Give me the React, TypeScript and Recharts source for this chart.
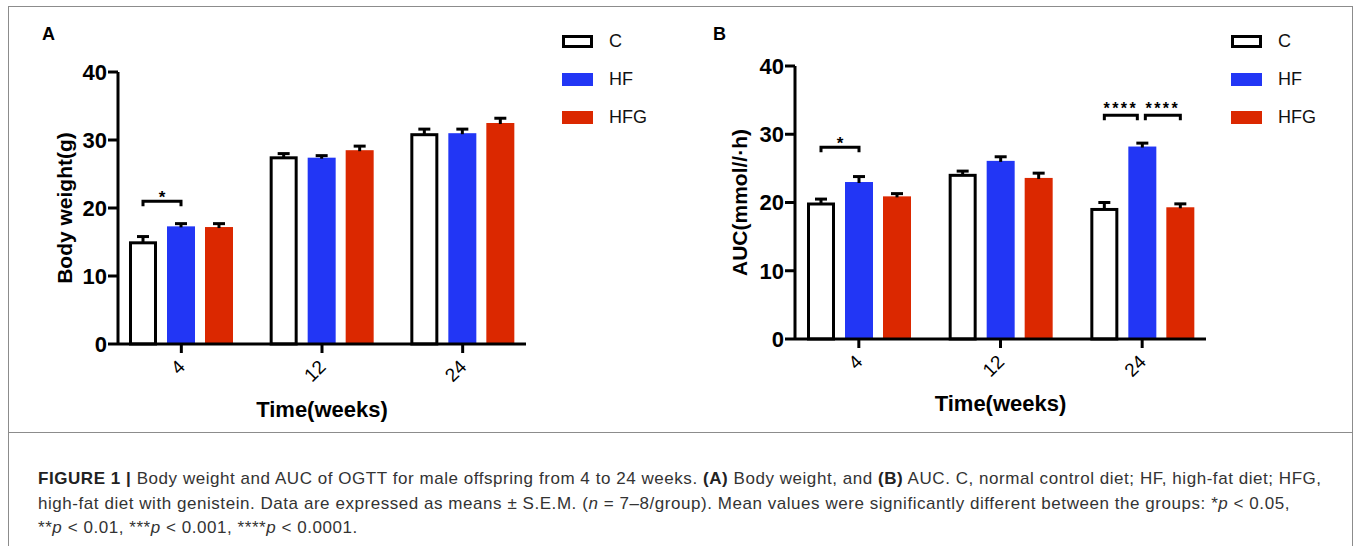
import React from "react";
import { Bar, BarChart, Label, Legend, XAxis, YAxis } from "recharts";

const weeks = ["4", "12", "24"];
const yTicks = [0, 10, 20, 30, 40];

// panel A – body weight (g), mean and S.E.M.
const bwC = [15.1, 27.6, 31.0];
const bwCErr = [0.7, 0.4, 0.6];
const bwHF = [17.3, 27.4, 31.0];
const bwHFErr = [0.4, 0.3, 0.6];
const bwHFG = [17.2, 28.5, 32.5];
const bwHFGErr = [0.5, 0.6, 0.7];

// panel B – AUC of OGTT
const aucC = [20.0, 24.2, 19.2];
const aucCErr = [0.5, 0.4, 0.8];
const aucHF = [23.0, 26.1, 28.2];
const aucHFErr = [0.8, 0.6, 0.5];
const aucHFG = [20.9, 23.6, 19.3];
const aucHFGErr = [0.4, 0.7, 0.5];

type Sig = { week: string; from: string; to: string; level: number; text: string };

// significance brackets, level in axis units
const bwSig: Sig[] = [{ week: "4", from: "c", to: "hf", level: 21.0, text: "*" }];
const aucSig: Sig[] = [
  { week: "4", from: "c", to: "hf", level: 28.1, text: "*" },
  { week: "24", from: "c", to: "hf", level: 32.8, text: "****" },
  { week: "24", from: "hf", to: "hfg", level: 32.8, text: "****" },
];

const FONT = '"Liberation Sans", Arial, Helvetica, sans-serif';
const BLUE = "#2236F5";
const RED = "#DB2800";
const BAR = 28;
const GAP = 10;

const series = [
  { key: "c", name: "C", fill: "#ffffff", outline: true },
  { key: "hf", name: "HF", fill: BLUE, outline: false },
  { key: "hfg", name: "HFG", fill: RED, outline: false },
];
const keys = series.map((s) => s.key);

function buildRows(c: number[], cErr: number[], hf: number[], hfErr: number[], hfg: number[], hfgErr: number[]) {
  return weeks.map((week, i) => ({
    week,
    c: c[i],
    cErr: cErr[i],
    hf: hf[i],
    hfErr: hfErr[i],
    hfg: hfg[i],
    hfgErr: hfgErr[i],
  }));
}

const bwRows = buildRows(bwC, bwCErr, bwHF, bwHFErr, bwHFG, bwHFGErr);
const aucRows = buildRows(aucC, aucCErr, aucHF, aucHFErr, aucHFG, aucHFGErr);

// bar + one-sided error bar (+ brackets for the series that carries them)
function barShape(key: string, outline: boolean, fill: string, sig: Sig[]) {
  return (p: any) => {
    const { x, y, width, height, payload } = p;
    const v = payload[key];
    const unit = v > 0 ? height / v : 0;
    const base = y + height;
    const cx = x + width / 2;
    const ey = y - payload[key + "Err"] * unit;
    const marks = sig.filter((s) => s.week === payload.week);
    const rel = (k: string) => keys.indexOf(k) - keys.indexOf(key);
    return (
      <g>
        {outline ? (
          <rect x={x + 1.5} y={y + 1.5} width={width - 3} height={height - 1.5} fill="#fff" stroke="#000" strokeWidth={3} />
        ) : (
          <rect x={x} y={y} width={width} height={height} fill={fill} />
        )}
        <line x1={cx} x2={cx} y1={y + 1} y2={ey} stroke="#000" strokeWidth={3} />
        <line x1={cx - 6} x2={cx + 6} y1={ey} y2={ey} stroke="#000" strokeWidth={3} />
        {marks.map((s, i) => {
          const pair = marks.length > 1;
          let x1 = cx + rel(s.from) * (BAR + GAP);
          let x2 = cx + rel(s.to) * (BAR + GAP);
          if (pair && s.to === key) x2 -= 5;
          if (pair && s.from === key) x1 += 3;
          const by = base - s.level * unit;
          return (
            <g key={i}>
              <path d={`M${x1},${by + 5}V${by}H${x2}V${by + 5}`} fill="none" stroke="#000" strokeWidth={3} />
              <text
                x={(x1 + x2) / 2}
                y={by + (s.text.length > 1 ? -1 : 2)}
                textAnchor="middle"
                fontFamily={FONT}
                fontWeight="bold"
                fontSize={s.text.length > 1 ? 16 : 17}
                letterSpacing={s.text.length > 1 ? 2.4 : 0}
                fill="#000"
              >
                {s.text}
              </text>
            </g>
          );
        })}
      </g>
    );
  };
}

const XTick = (p: any) => {
  const tx = p.x + 5;
  const ty = p.y + 13;
  return (
    <text x={tx} y={ty} transform={`rotate(-45 ${tx} ${ty})`} textAnchor="end" fontFamily={FONT} fontSize={19} fill="#000">
      {p.payload.value}
    </text>
  );
};

const legendContent = () => (
  <div style={{ fontFamily: FONT }}>
    {series.map((s) => (
      <div key={s.key} style={{ display: "flex", alignItems: "center", height: 38 }}>
        <div
          style={{
            width: 31,
            height: 13,
            boxSizing: "border-box",
            background: s.fill,
            border: s.outline ? "3px solid #000" : "none",
          }}
        />
        <span style={{ marginLeft: 16, fontSize: 18, color: "#111" }}>{s.name}</span>
      </div>
    ))}
  </div>
);

function Panel(props: {
  rows: any[];
  sig: Sig[];
  yLabel: string;
  yLabelOffset: number;
  margin: { top: number; right: number; bottom: number; left: number };
  xLabelOffset: number;
  legendLeft: number;
}) {
  const { rows, sig, yLabel, yLabelOffset, margin, xLabelOffset, legendLeft } = props;
  return (
    <BarChart width={680} height={430} data={rows} margin={margin} barGap={GAP}>
      <XAxis
        dataKey="week"
        height={60}
        interval={0}
        padding={{ left: -7, right: -7 }}
        tickSize={9}
        tickMargin={2}
        tickLine={{ stroke: "#000", strokeWidth: 3 }}
        axisLine={{ stroke: "#000", strokeWidth: 3 }}
        tick={<XTick />}
      >
        <Label
          value="Time(weeks)"
          position="bottom"
          offset={xLabelOffset}
          style={{ fontFamily: FONT, fontSize: 22, fontWeight: "bold", fill: "#000" }}
        />
      </XAxis>
      <YAxis
        width={100}
        domain={[0, 40]}
        ticks={yTicks}
        interval={0}
        tickSize={10}
        tickMargin={1}
        tickLine={{ stroke: "#000", strokeWidth: 3 }}
        axisLine={{ stroke: "#000", strokeWidth: 3 }}
        tick={{ fontFamily: FONT, fontSize: 22, fontWeight: "bold", fill: "#000" }}
      >
        <Label
          value={yLabel}
          angle={-90}
          position="insideLeft"
          offset={yLabelOffset}
          style={{ fontFamily: FONT, fontSize: 21, fontWeight: "bold", fill: "#000", textAnchor: "middle" }}
        />
      </YAxis>
      {series.map((s) => (
        <Bar
          key={s.key}
          dataKey={s.key}
          name={s.name}
          fill={s.fill}
          barSize={BAR}
          isAnimationActive={false}
          shape={barShape(s.key, s.outline, s.fill, s.key === "hf" ? sig : [])}
        />
      ))}
      <Legend
        layout="vertical"
        align="center"
        verticalAlign="middle"
        wrapperStyle={{ left: legendLeft, top: 22, width: 120 }}
        content={legendContent}
      />
    </BarChart>
  );
}

const cap: React.CSSProperties = {
  position: "absolute",
  left: 38,
  whiteSpace: "nowrap",
  fontSize: 17,
  letterSpacing: 0.55,
  color: "#333",
};

export default function App() {
  return (
    <div style={{ position: "absolute", left: 0, top: 0, width: 1360, height: 546, background: "#fff", overflow: "hidden", fontFamily: FONT }}>
      <div style={{ position: "absolute", left: 8, top: 6, width: 1343, height: 600, border: "1px solid #8c8c8c" }} />
      <div style={{ position: "absolute", left: 8, top: 432, width: 1345, height: 1, background: "#8c8c8c" }} />

      <div style={{ position: "absolute", left: 0, top: 0 }}>
        <Panel
          rows={bwRows}
          sig={bwSig}
          yLabel="Body weight(g)"
          yLabelOffset={47}
          margin={{ top: 72, right: 154, bottom: 26, left: 18 }}
          xLabelOffset={-3}
          legendLeft={562}
        />
      </div>
      <div style={{ position: "absolute", left: 680, top: 0 }}>
        <Panel
          rows={aucRows}
          sig={aucSig}
          yLabel="AUC(mmol//·h)"
          yLabelOffset={45}
          margin={{ top: 66, right: 154, bottom: 31, left: 15 }}
          xLabelOffset={-4}
          legendLeft={551}
        />
      </div>

      <div style={{ position: "absolute", left: 42, top: 25, fontSize: 18, fontWeight: "bold", lineHeight: "18px" }}>A</div>
      <div style={{ position: "absolute", left: 713, top: 25, fontSize: 18, fontWeight: "bold", lineHeight: "18px" }}>B</div>

      <div style={{ ...cap, top: 469 }}>
        <b style={{ color: "#222" }}>FIGURE 1 |</b> Body weight and AUC of OGTT for male offspring from 4 to 24 weeks. <b style={{ color: "#222" }}>(A)</b> Body
        weight, and <b style={{ color: "#222" }}>(B)</b> AUC. C, normal control diet; HF, high-fat diet; HFG,
      </div>
      <div style={{ ...cap, top: 494 }}>
        high-fat diet with genistein. Data are expressed as means ± S.E.M. (<i>n</i> = 7–8/group). Mean values were significantly
        different between the groups: *<i>p</i> &lt; 0.05,
      </div>
      <div style={{ ...cap, top: 518 }}>
        **<i>p</i> &lt; 0.01, ***<i>p</i> &lt; 0.001, ****<i>p</i> &lt; 0.0001.
      </div>
    </div>
  );
}
